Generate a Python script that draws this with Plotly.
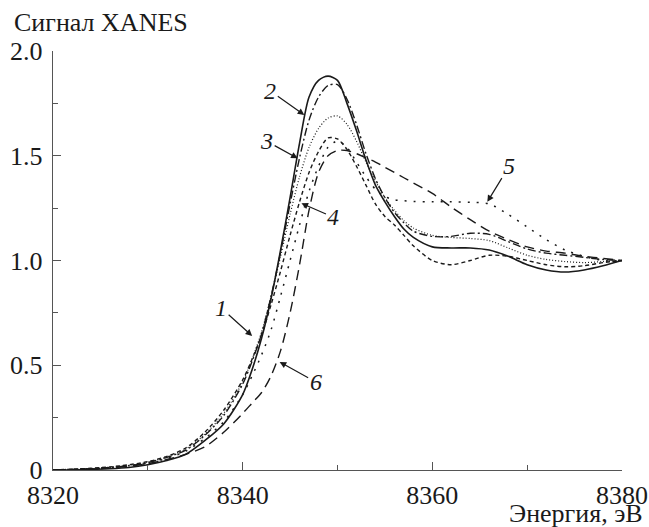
import plotly.graph_objects as go

energy = [8320, 8322, 8324, 8326, 8328, 8330, 8332, 8334, 8336, 8338, 8340,
          8341, 8342, 8343, 8344, 8345, 8346, 8347, 8348, 8349, 8350, 8351,
          8352, 8353, 8354, 8355, 8356, 8357, 8358, 8360, 8362, 8364, 8366,
          8368, 8370, 8372, 8374, 8376, 8378, 8380]

curve1 = [0.0, 0.0, 0.003, 0.006, 0.012, 0.025, 0.045, 0.075, 0.14, 0.22, 0.36,
          0.48, 0.63, 0.82, 1.05, 1.30, 1.56, 1.78, 1.86, 1.88, 1.86, 1.75,
          1.62, 1.48, 1.36, 1.28, 1.21, 1.15, 1.11, 1.065, 1.06, 1.06, 1.05,
          1.02, 0.98, 0.955, 0.945, 0.955, 0.975, 1.0]

curve2 = [0.0, 0.003, 0.006, 0.012, 0.02, 0.035, 0.06, 0.095, 0.165, 0.26, 0.41,
          0.52, 0.65, 0.83, 1.04, 1.27, 1.49, 1.67, 1.78, 1.835, 1.84, 1.77,
          1.65, 1.51, 1.39, 1.30, 1.23, 1.18, 1.14, 1.115, 1.115, 1.13, 1.125,
          1.09, 1.055, 1.035, 1.025, 1.015, 1.005, 1.0]

curve3 = [0.0, 0.003, 0.007, 0.013, 0.022, 0.037, 0.062, 0.10, 0.17, 0.27, 0.42,
          0.53, 0.66, 0.83, 1.02, 1.22, 1.40, 1.54, 1.63, 1.68, 1.69, 1.65,
          1.57, 1.47, 1.38, 1.30, 1.24, 1.19, 1.155, 1.12, 1.11, 1.105, 1.095,
          1.06, 1.025, 1.005, 0.995, 0.99, 0.995, 1.0]

curve4 = [0.0, 0.004, 0.008, 0.015, 0.025, 0.04, 0.065, 0.105, 0.18, 0.285, 0.43,
          0.53, 0.645, 0.79, 0.95, 1.12, 1.28, 1.42, 1.52, 1.585, 1.58, 1.53,
          1.45, 1.36, 1.27, 1.21, 1.17, 1.12, 1.07, 1.0, 0.98, 1.0, 1.025,
          1.02, 1.0, 0.98, 0.97, 0.975, 0.99, 1.0]

curve5 = [0.0, 0.003, 0.006, 0.011, 0.019, 0.032, 0.055, 0.09, 0.15, 0.23, 0.36,
          0.45, 0.55, 0.67, 0.83, 1.0, 1.17, 1.33, 1.45, 1.54, 1.57, 1.54,
          1.47, 1.40, 1.34, 1.305, 1.29, 1.285, 1.282, 1.28, 1.28, 1.278, 1.27,
          1.22, 1.16, 1.10, 1.05, 1.02, 1.0, 0.995]

curve6 = [0.0, 0.002, 0.005, 0.01, 0.018, 0.03, 0.05, 0.075, 0.11, 0.18, 0.27,
          0.32, 0.37, 0.45, 0.57, 0.75, 0.98, 1.24, 1.42, 1.50, 1.525, 1.525,
          1.51, 1.49, 1.47, 1.445, 1.42, 1.395, 1.37, 1.32, 1.255, 1.195, 1.14,
          1.10, 1.065, 1.045, 1.035, 1.02, 1.01, 1.0]

series = [("1", curve1, "solid", 1.6),
          ("2", curve2, "8px,3px,2px,3px", 1.4),
          ("3", curve3, "1px,2px", 1.2),
          ("4", curve4, "4px,3px", 1.4),
          ("5", curve5, "2px,7px", 1.5),
          ("6", curve6, "10px,6px", 1.4)]

# label: (name, arrow tip energy, arrow tip signal, text offset x, text offset y)
labels = [("1", 8341.0, 0.64, -31, -28),
          ("2", 8346.5, 1.695, -34, -24),
          ("3", 8345.8, 1.488, -31, -17),
          ("4", 8346.2, 1.273, 32, 14),
          ("5", 8365.8, 1.28, 22, -36),
          ("6", 8343.9, 0.516, 36, 20)]

x_ticks = [8320, 8340, 8360, 8380]
y_ticks = [0, 0.5, 1.0, 1.5, 2.0]
y_tick_text = ["0", "0.5", "1.0", "1.5", "2.0"]

SERIF = "Liberation Serif, Times New Roman, DejaVu Serif, serif"
INK = "#1a1a1a"

fig = go.Figure()
for name, vals, dash, w in series:
    fig.add_trace(go.Scatter(x=energy, y=vals, mode="lines", name=name,
                             line=dict(color=INK, width=w, dash=dash,
                                       shape="spline", smoothing=0.8),
                             showlegend=False, hoverinfo="skip"))

for name, ex, ey, ax, ay in labels:
    fig.add_annotation(x=ex, y=ey, text="<i>" + name + "</i>", showarrow=True,
                       ax=ax, ay=ay, arrowhead=2, arrowsize=1.1, arrowwidth=1.2,
                       arrowcolor=INK,
                       font=dict(family=SERIF, size=24, color=INK))

fig.add_annotation(xref="paper", yref="paper", x=-0.072, y=1.069, xanchor="left",
                   yanchor="middle", text="Сигнал XANES", showarrow=False,
                   font=dict(family=SERIF, size=26, color=INK))
fig.add_annotation(xref="paper", yref="paper", x=1.04, y=-0.105, xanchor="right",
                   yanchor="middle", text="Энергия, эВ", showarrow=False,
                   font=dict(family=SERIF, size=26, color=INK))

axis_common = dict(showgrid=False, zeroline=False, showline=True, linecolor="#555555",
                   linewidth=1.4, ticks="inside", ticklen=8, tickwidth=1.2,
                   tickcolor="#555555", automargin=False,
                   tickfont=dict(family=SERIF, size=26, color=INK))

fig.update_xaxes(range=[8320, 8380], tickvals=x_ticks,
                 minor=dict(ticks="inside", ticklen=5, dtick=10, tick0=8320,
                            tickcolor="#555555", tickwidth=1.2),
                 ticklabelstandoff=1, **axis_common)
fig.update_yaxes(range=[0, 2.0], tickvals=y_ticks, ticktext=y_tick_text,
                 minor=dict(ticks="inside", ticklen=5, dtick=0.25, tick0=0,
                            tickcolor="#555555", tickwidth=1.2),
                 ticklabelstandoff=4, **axis_common)

fig.update_layout(width=649, height=527, plot_bgcolor="white", paper_bgcolor="white",
                  margin=dict(l=53, r=27, t=51, b=57),
                  font=dict(family=SERIF, color=INK), hovermode=False)

fig.write_html("out.html", config={"displayModeBar": False, "staticPlot": True},
               post_script="document.body.style.margin='0';document.body.style.overflow='hidden';")
